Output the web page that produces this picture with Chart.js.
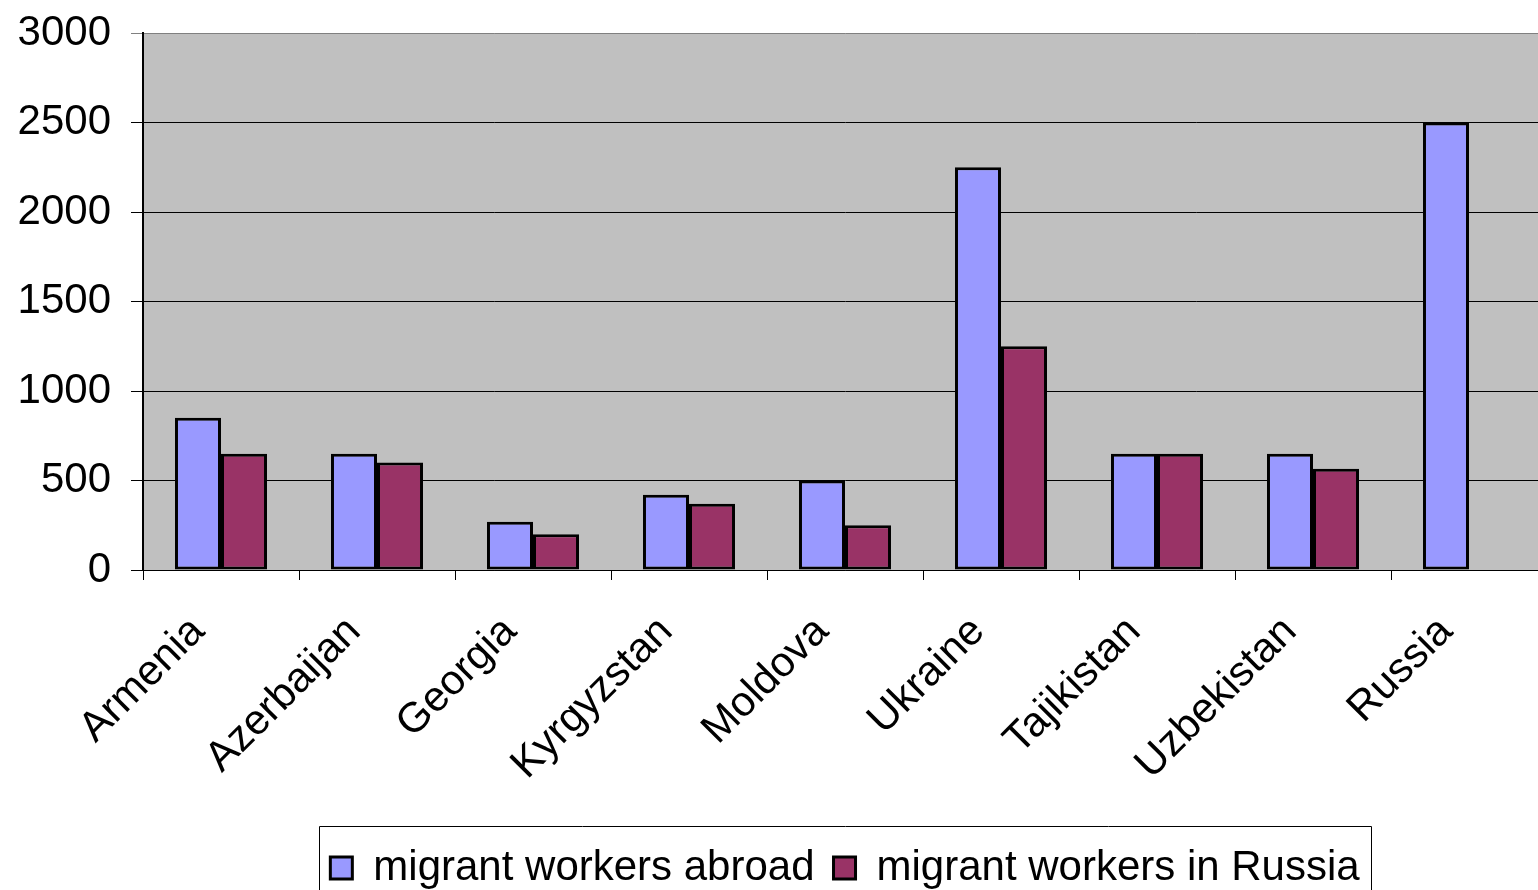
<!DOCTYPE html>
<html>
<head>
<meta charset="utf-8">
<script src="https://cdn.jsdelivr.net/npm/chart.js@4.4.1/dist/chart.umd.min.js"></script>
<style>
html,body{margin:0;padding:0;background:#fff;overflow:hidden;}
#wrap{width:1538px;height:890px;overflow:hidden;position:relative;}
canvas{display:block;}
</style>
</head>
<body>
<div id="wrap"><canvas id="c" width="1548" height="899"></canvas></div>
<script>
const categories = ["Armenia","Azerbaijan","Georgia","Kyrgyzstan","Moldova","Ukraine","Tajikistan","Uzbekistan","Russia"];
const seriesNames = ["migrant workers abroad","migrant workers in Russia"];
const abroad = [850, 650, 270, 420, 500, 2250, 650, 650, 2500];
const inRussia = [650, 600, 200, 370, 250, 1250, 650, 565, null];
const yTicks = [0, 500, 1000, 1500, 2000, 2500, 3000];

Chart.defaults.font.family = "'Liberation Sans', Arial, sans-serif";
Chart.defaults.color = "#000";

const plotBg = {
  id: 'plotBg',
  beforeDraw(chart) {
    const {ctx, chartArea: a} = chart;
    ctx.save();
    ctx.fillStyle = '#C0C0C0';
    ctx.fillRect(a.left, a.top, a.right - a.left, a.bottom - a.top);
    ctx.restore();
  },
  afterDraw(chart) {
    const lg = chart.legend;
    if (!lg || !lg.legendHitBoxes || !lg.legendHitBoxes.length) return;
    const hb = lg.legendHitBoxes;
    const first = hb[0], last = hb[hb.length - 1];
    const ctx = chart.ctx;
    ctx.save();
    ctx.strokeStyle = '#000';
    ctx.lineWidth = 1;
    const l = Math.round(first.left - 11) + 0.5;
    const r = Math.round(last.left + last.width + 11) + 0.5;
    const t = Math.round(lg.top) - 1.5;
    ctx.beginPath();
    ctx.moveTo(l, t + 200);
    ctx.lineTo(l, t);
    ctx.lineTo(r, t);
    ctx.lineTo(r, t + 200);
    ctx.stroke();
    ctx.restore();
  }
};

new Chart(document.getElementById('c'), {
  type: 'bar',
  data: {
    labels: categories,
    datasets: [
      { label: seriesNames[0], data: abroad, backgroundColor: '#9999FF', borderColor: '#000', borderWidth: 3, borderSkipped: false },
      { label: seriesNames[1], data: inRussia, backgroundColor: '#993366', borderColor: '#000', borderWidth: 3, borderSkipped: false }
    ]
  },
  options: {
    responsive: false,
    animation: false,
    devicePixelRatio: 1,
    layout: { padding: { top: 33, right: 1, left: 0, bottom: 0 } },
    datasets: { bar: { categoryPercentage: 0.59, barPercentage: 1.0 } },
    plugins: {
      legend: {
        position: 'bottom',
        fullSize: false,
        labels: {
          font: { size: 42 },
          boxWidth: 22,
          boxHeight: 22,
          padding: 19,
          color: '#000'
        }
      },
      tooltip: { enabled: false }
    },
    scales: {
      x: {
        grid: { drawOnChartArea: false, drawTicks: true, tickLength: 10, color: '#000', offset: true },
        border: { color: '#000', width: 1 },
        ticks: { font: { size: 42 }, maxRotation: 45, minRotation: 45, padding: 27, labelOffset: -23, autoSkip: false },
        afterFit(scale) { scale.height = 258; }
      },
      y: {
        min: 0, max: 3000,
        afterBuildTicks(scale) { scale.ticks = yTicks.map(v => ({ value: v })); },
        grid: { color: (c) => c.tick && c.tick.value === 3000 ? '#808080' : '#000', lineWidth: 1, tickLength: 12 },
        border: { color: '#000', width: 2 },
        ticks: { font: { size: 42 }, padding: 20, callback: (v) => String(v) },
        afterFit(scale) { scale.width = 143; scale.paddingTop = 0; scale.paddingBottom = 0; }
      }
    }
  },
  plugins: [plotBg]
});
</script>
</body>
</html>
